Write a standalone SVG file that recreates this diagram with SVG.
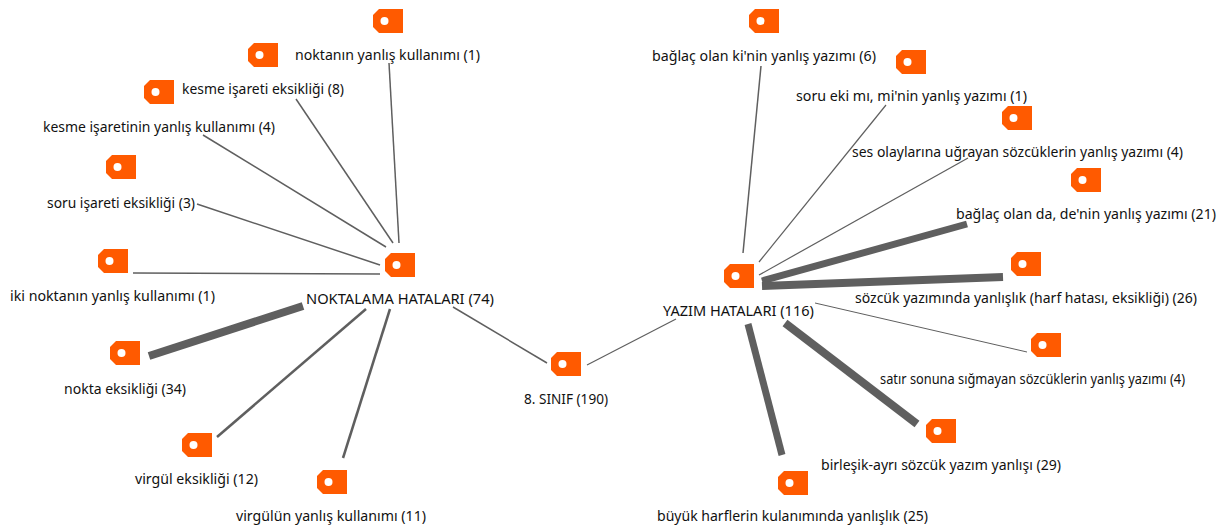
<svg xmlns="http://www.w3.org/2000/svg" width="1223" height="529" viewBox="0 0 1223 529">
<style>
text{font-family:"Noto Sans","Open Sans","Liberation Sans",sans-serif;font-size:14.5px;fill:#111}
.c line{stroke:#5f5f5f;fill:none}
.tag{fill:#ff5a00}
.hole{fill:#fff}
</style>
<defs>
<g id="t"><path class="tag" d="M6 0H30V24H6L0 18V6Z"/><circle class="hole" cx="11.500" cy="12" r="4"/></g>
</defs>
<rect width="1223" height="529" fill="#fff"/>
<g id="connectors" class="c">
<line x1="389" y1="63" x2="399" y2="243" stroke-width="1.5"/>
<line x1="296" y1="99" x2="393" y2="243" stroke-width="1.5"/>
<line x1="203" y1="135" x2="386" y2="247" stroke-width="1.5"/>
<line x1="197" y1="204" x2="380" y2="265" stroke-width="1.5"/>
<line x1="133" y1="273" x2="380" y2="274" stroke-width="1.5"/>
<line x1="149" y1="356" x2="303" y2="306" stroke-width="8"/>
<line x1="217" y1="437" x2="366" y2="309" stroke-width="2.500"/>
<line x1="343" y1="458" x2="390" y2="309" stroke-width="2.500"/>
<line x1="453" y1="307" x2="547" y2="363" stroke-width="1.500"/>
<line x1="587" y1="365" x2="676" y2="319" stroke-width="1.200"/>
<line x1="761" y1="66" x2="743" y2="253" stroke-width="1.500"/>
<line x1="886" y1="105" x2="759" y2="262" stroke-width="1.200"/>
<line x1="968" y1="158" x2="759" y2="275" stroke-width="1.200"/>
<line x1="967" y1="224" x2="762" y2="281" stroke-width="7"/>
<line x1="1003" y1="277" x2="762" y2="286" stroke-width="8"/>
<line x1="1027" y1="352" x2="815" y2="303" stroke-width="1"/>
<line x1="917" y1="424" x2="785" y2="323" stroke-width="8"/>
<line x1="782" y1="455" x2="748" y2="324" stroke-width="7"/>
</g>
<g id="n1"><use href="#t" x="373" y="9"/><text x="295" y="60" textLength="185" lengthAdjust="spacingAndGlyphs">noktanın yanlış kullanımı (1)</text></g>
<g id="n2"><use href="#t" x="248" y="43"/><text x="182" y="94" textLength="162" lengthAdjust="spacingAndGlyphs">kesme işareti eksikliği (8)</text></g>
<g id="n3"><use href="#t" x="144" y="80"/><text x="43" y="132" textLength="232" lengthAdjust="spacingAndGlyphs">kesme işaretinin yanlış kullanımı (4)</text></g>
<g id="n4"><use href="#t" x="106" y="155"/><text x="47" y="208" textLength="148" lengthAdjust="spacingAndGlyphs">soru işareti eksikliği (3)</text></g>
<g id="n5"><use href="#t" x="98" y="249"/><text x="10" y="301" textLength="205" lengthAdjust="spacingAndGlyphs">iki noktanın yanlış kullanımı (1)</text></g>
<g id="n6"><use href="#t" x="110" y="341"/><text x="64" y="394" textLength="122" lengthAdjust="spacingAndGlyphs">nokta eksikliği (34)</text></g>
<g id="n7"><use href="#t" x="182" y="433"/><text x="135" y="484" textLength="123" lengthAdjust="spacingAndGlyphs">virgül eksikliği (12)</text></g>
<g id="n8"><use href="#t" x="317" y="470"/><text x="236" y="521" textLength="190" lengthAdjust="spacingAndGlyphs">virgülün yanlış kullanımı (11)</text></g>
<g id="n9"><use href="#t" x="385" y="253"/><text x="306" y="304" textLength="188" lengthAdjust="spacingAndGlyphs">NOKTALAMA HATALARI (74)</text></g>
<g id="n10"><use href="#t" x="551" y="352"/><text x="524" y="404" textLength="84" lengthAdjust="spacingAndGlyphs">8. SINIF (190)</text></g>
<g id="n11"><use href="#t" x="724" y="264"/><text x="663" y="316" textLength="151" lengthAdjust="spacingAndGlyphs">YAZIM HATALARI (116)</text></g>
<g id="n12"><use href="#t" x="749" y="9"/><text x="652" y="61" textLength="224" lengthAdjust="spacingAndGlyphs">bağlaç olan ki'nin yanlış yazımı (6)</text></g>
<g id="n13"><use href="#t" x="896" y="50"/><text x="796" y="101" textLength="231" lengthAdjust="spacingAndGlyphs">soru eki mı, mi'nin yanlış yazımı (1)</text></g>
<g id="n14"><use href="#t" x="1002" y="106"/><text x="852" y="157" textLength="331" lengthAdjust="spacingAndGlyphs">ses olaylarına uğrayan sözcüklerin yanlış yazımı (4)</text></g>
<g id="n15"><use href="#t" x="1071" y="168"/><text x="956" y="219" textLength="260" lengthAdjust="spacingAndGlyphs">bağlaç olan da, de'nin yanlış yazımı (21)</text></g>
<g id="n16"><use href="#t" x="1011" y="252"/><text x="855" y="303" textLength="342" lengthAdjust="spacingAndGlyphs">sözcük yazımında yanlışlık (harf hatası, eksikliği) (26)</text></g>
<g id="n17"><use href="#t" x="1031" y="333"/><text x="880" y="384" textLength="305" lengthAdjust="spacingAndGlyphs">satır sonuna sığmayan sözcüklerin yanlış yazımı (4)</text></g>
<g id="n18"><use href="#t" x="926" y="419"/><text x="821" y="470" textLength="240" lengthAdjust="spacingAndGlyphs">birleşik-ayrı sözcük yazım yanlışı (29)</text></g>
<g id="n19"><use href="#t" x="778" y="471"/><text x="657" y="521" textLength="271" lengthAdjust="spacingAndGlyphs">büyük harflerin kulanımında yanlışlık (25)</text></g>
</svg>
